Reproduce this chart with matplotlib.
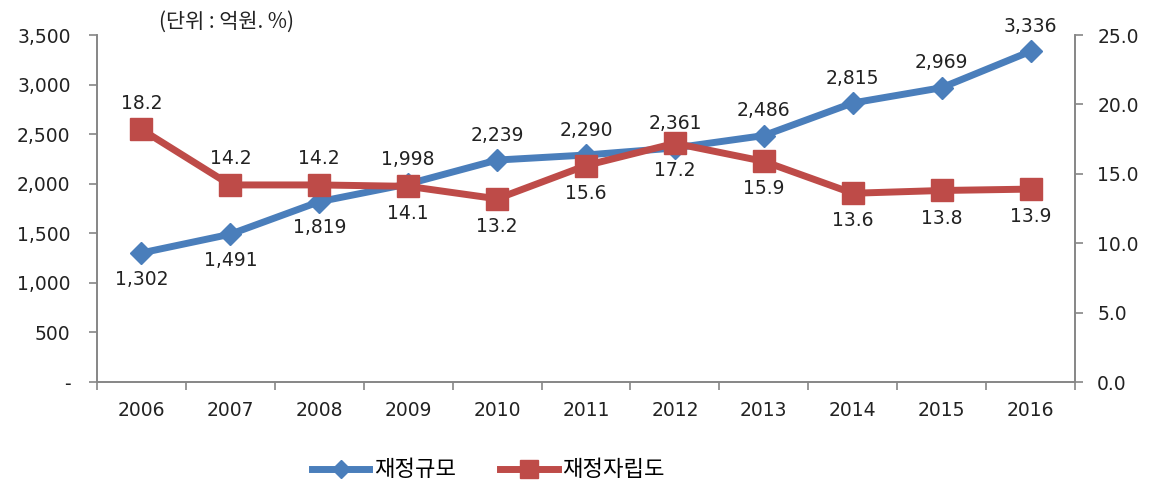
import matplotlib
matplotlib.use('Agg')
import matplotlib.pyplot as plt
from matplotlib.ticker import FixedLocator, FuncFormatter

plt.rcParams['font.family'] = ['DejaVu Sans', 'Noto Sans CJK KR']

years = ['2006', '2007', '2008', '2009', '2010', '2011', '2012', '2013', '2014', '2015', '2016']
budget = [1302, 1491, 1819, 1998, 2239, 2290, 2361, 2486, 2815, 2969, 3336]
independence = [18.2, 14.2, 14.2, 14.1, 13.2, 15.6, 17.2, 15.9, 13.6, 13.8, 13.9]
budget_label_above = [False, False, False, True, True, True, True, True, True, True, True]
indep_label_above = [True, True, True, False, False, False, False, False, False, False, False]

blue = '#4a7ebb'
red = '#be4b48'
gray = '#868686'
txt = '#222222'
fs = 13.5

fig = plt.figure(figsize=(11.49, 4.87), dpi=100)
ax = fig.add_axes([0.0844, 0.2156, 0.8512, 0.7124])
ax2 = ax.twinx()

x = list(range(len(years)))
l1, = ax.plot(x, budget, color=blue, lw=5, marker='D', ms=11, label='재정규모', zorder=3)
l2, = ax2.plot(x, independence, color=red, lw=5, marker='s', ms=16, label='재정자립도', zorder=3)

ax.set_xlim(-0.5, len(years) - 0.5)
ax.set_ylim(0, 3500)
ax2.set_ylim(0, 25)

ax.set_yticks(range(0, 3501, 500))
ax.yaxis.set_major_formatter(FuncFormatter(lambda v, p: '-' if v == 0 else f'{int(v):,}'))
ax2.set_yticks(range(0, 26, 5))
ax2.yaxis.set_major_formatter(FuncFormatter(lambda v, p: f'{v:.1f}'))

ax.set_xticks(x)
ax.set_xticklabels(years)
ax.xaxis.set_minor_locator(FixedLocator([i - 0.5 for i in range(len(years) + 1)]))
ax.tick_params(axis='x', which='major', length=0, pad=14, labelsize=fs, colors=txt)
ax.tick_params(axis='x', which='minor', length=6, color=gray, width=1.2)
ax.tick_params(axis='y', length=6, color=gray, width=1.2, labelsize=fs, labelcolor=txt, pad=13)
ax2.tick_params(axis='y', length=6, color=gray, width=1.2, labelsize=fs, labelcolor=txt, pad=10)

for a in (ax, ax2):
    a.spines['top'].set_visible(False)
    for s in ('left', 'right', 'bottom'):
        a.spines[s].set_color(gray)
        a.spines[s].set_linewidth(1.2)

for xi, v, up in zip(x, budget, budget_label_above):
    ax.annotate(f'{v:,}', (xi, v), xytext=(0, 11 if up else -12), textcoords='offset points',
                ha='center', va='bottom' if up else 'top', fontsize=fs, color=txt)

for xi, v, up in zip(x, independence, indep_label_above):
    ax2.annotate(f'{v:.1f}', (xi, v), xytext=(0, 12 if up else -13), textcoords='offset points',
                 ha='center', va='bottom' if up else 'top', fontsize=fs, color=txt)

fig.text(0.138, 0.955, '(단위 : 억원. %)', fontsize=15, family=['Noto Sans CJK KR', 'DejaVu Sans'],
         ha='left', va='center', color=txt)

fig.legend(handles=[l1, l2], loc='center', bbox_to_anchor=(0.425, 0.035), ncol=2, frameon=False,
           prop={'family': 'Noto Sans CJK KR', 'size': 16}, handlelength=2.6, columnspacing=2.0,
           handletextpad=0.2, markerscale=0.8)

fig.savefig('out.png', dpi=100)
